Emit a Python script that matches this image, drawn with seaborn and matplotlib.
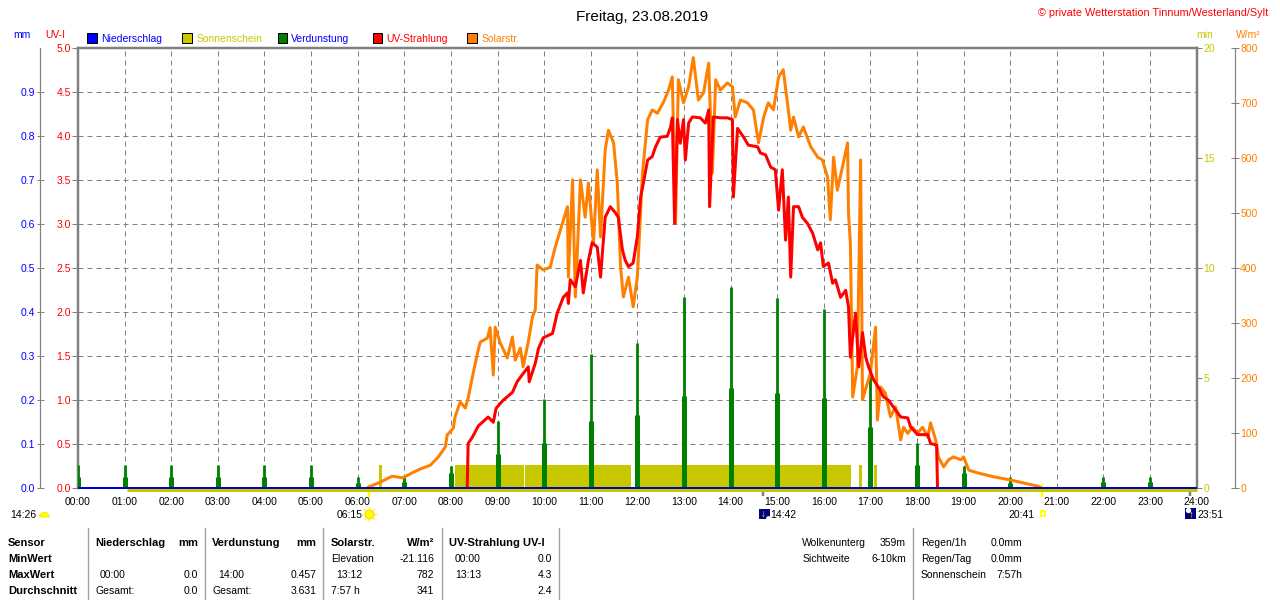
import matplotlib
matplotlib.use("Agg")
import matplotlib.pyplot as plt
import seaborn as sns
from matplotlib.patches import Rectangle, Wedge
from matplotlib.transforms import ScaledTranslation

# ---------------- data ----------------
hours = list(range(25))
hour_labels = [f"{h:02d}:00" for h in hours]
uv_ticks = [0.0, 0.5, 1.0, 1.5, 2.0, 2.5, 3.0, 3.5, 4.0, 4.5, 5.0]
mm_ticks = [0.0, 0.1, 0.2, 0.3, 0.4, 0.5, 0.6, 0.7, 0.8, 0.9]
min_ticks = [0, 5, 10, 15, 20]
wm2_ticks = [0, 100, 200, 300, 400, 500, 600, 700, 800]

solar_t = [6.23, 6.48, 6.74, 6.96, 7.17, 7.34, 7.56, 7.73, 7.88, 7.92,
           8.05, 8.09, 8.20, 8.31, 8.37, 8.46, 8.57, 8.63, 8.78, 8.84,
           8.91, 8.95, 9.06, 9.21, 9.32, 9.38, 9.49, 9.55, 9.66, 9.75,
           9.81, 9.85, 9.98, 10.13, 10.24, 10.35, 10.50, 10.52, 10.61, 10.67,
           10.78, 10.88, 10.95, 11.06, 11.14, 11.21, 11.31, 11.38, 11.49, 11.57,
           11.64, 11.70, 11.81, 11.91, 12.00, 12.11, 12.22, 12.32, 12.43, 12.56,
           12.67, 12.75, 12.82, 12.88, 12.99, 13.10, 13.20, 13.31, 13.42, 13.53,
           13.61, 13.68, 13.78, 13.93, 14.04, 14.10, 14.21, 14.36, 14.49, 14.60,
           14.71, 14.81, 14.92, 15.03, 15.13, 15.22, 15.29, 15.35, 15.46, 15.56,
           15.72, 15.87, 15.97, 16.08, 16.14, 16.21, 16.29, 16.40, 16.51, 16.53,
           16.57, 16.62, 16.72, 16.79, 16.83, 17.00, 17.11, 17.15, 17.22, 17.32,
           17.43, 17.54, 17.65, 17.71, 17.80, 17.90, 18.01, 18.12, 18.23, 18.29,
           18.40, 18.46, 18.57, 18.68, 18.78, 18.94, 19.00, 19.11, 19.30, 19.64,
           20.01, 20.37, 20.59, 20.68]
solar_w = [2, 11, 22, 19, 28, 35, 42, 57, 75, 97,
           109, 130, 157, 146, 164, 202, 246, 266, 273, 292,
           206, 293, 264, 237, 275, 233, 255, 221, 266, 312,
           324, 406, 397, 402, 439, 470, 512, 384, 561, 348,
           561, 493, 555, 446, 579, 457, 615, 651, 628, 555,
           402, 348, 384, 330, 384, 573, 670, 688, 682, 702,
           724, 748, 482, 743, 701, 730, 783, 706, 719, 773,
           573, 743, 724, 737, 730, 675, 706, 701, 688, 628,
           675, 701, 688, 748, 761, 701, 651, 675, 639, 657,
           621, 602, 597, 566, 488, 602, 542, 584, 628, 500,
           446, 166, 221, 597, 161, 210, 293, 124, 184, 173,
           130, 148, 88, 111, 100, 111, 100, 111, 93, 119,
           88, 57, 39, 52, 57, 52, 57, 33, 28, 21,
           15, 8, 4, 0]

uv_t = [8.35, 8.37, 8.46, 8.59, 8.80, 8.91, 8.97, 9.12, 9.32, 9.42,
        9.53, 9.66, 9.68, 9.81, 9.88, 9.98, 10.18, 10.28, 10.41, 10.50,
        10.52, 10.56, 10.67, 10.78, 10.84, 10.95, 11.03, 11.14, 11.21, 11.31,
        11.42, 11.53, 11.59, 11.68, 11.74, 11.81, 11.91, 12.00, 12.07, 12.13,
        12.22, 12.32, 12.39, 12.49, 12.64, 12.71, 12.75, 12.80, 12.86, 12.92,
        12.99, 13.03, 13.10, 13.18, 13.35, 13.46, 13.53, 13.55, 13.63, 13.78,
        13.93, 14.04, 14.06, 14.15, 14.28, 14.38, 14.58, 14.64, 14.75, 14.86,
        14.96, 15.03, 15.11, 15.18, 15.24, 15.29, 15.35, 15.46, 15.54, 15.65,
        15.76, 15.87, 15.93, 15.99, 16.10, 16.19, 16.25, 16.36, 16.47, 16.53,
        16.57, 16.68, 16.75, 16.83, 16.90, 16.96, 17.07, 17.17, 17.28, 17.39,
        17.50, 17.65, 17.80, 17.86, 18.01, 18.23, 18.29, 18.42, 18.44]
uv_i = [0.0, 0.51, 0.58, 0.71, 0.81, 0.75, 0.91, 1.00, 1.09, 1.21,
        1.29, 1.38, 1.21, 1.42, 1.59, 1.71, 1.76, 1.99, 2.17, 2.22,
        2.10, 2.37, 2.29, 2.59, 2.22, 2.59, 2.79, 2.74, 2.40, 3.08,
        3.20, 3.13, 3.08, 2.71, 2.59, 2.52, 2.56, 2.86, 3.31, 3.47,
        3.73, 3.77, 3.88, 3.99, 4.00, 4.10, 4.21, 3.01, 4.19, 3.92,
        4.19, 3.73, 4.15, 4.22, 4.21, 4.15, 4.30, 3.20, 4.22, 4.21,
        4.21, 4.19, 3.31, 4.09, 3.99, 3.90, 3.88, 3.81, 3.79, 3.65,
        3.62, 3.16, 3.62, 2.82, 3.31, 2.40, 3.20, 3.20, 3.08, 3.01,
        2.90, 2.71, 2.79, 2.52, 2.56, 2.33, 2.37, 2.17, 2.25, 2.06,
        1.49, 1.99, 1.38, 1.77, 1.49, 1.38, 1.23, 1.15, 1.04, 1.00,
        0.92, 0.81, 0.80, 0.70, 0.61, 0.61, 0.51, 0.49, 0.0]

evap_h = list(range(24))
evap_hi = [0.053, 0.053, 0.053, 0.053, 0.053, 0.053, 0.026, 0.026, 0.051, 0.153,
           0.203, 0.305, 0.330, 0.435, 0.457, 0.432, 0.408, 0.283, 0.103, 0.051,
           0.026, 0.0, 0.026, 0.026]
evap_lo = [0.026, 0.026, 0.026, 0.026, 0.026, 0.026, 0.012, 0.015, 0.035, 0.078,
           0.103, 0.153, 0.167, 0.210, 0.228, 0.217, 0.205, 0.140, 0.053, 0.035,
           0.012, 0.0, 0.014, 0.014]

sun_start = [6.45, 8.08, 9.60, 11.95, 16.75, 17.07]
sun_end = [6.52, 9.56, 11.865, 16.59, 16.82, 17.15]
sun_min = [1.05, 1.05, 1.05, 1.05, 1.05, 1.05]
sunbase_t = [1.05, 24.0]
sunbase_min = [0.0, 0.0]

rain_t = [0.0, 24.0]
rain_mm = [0.0, 0.0]

sun_events = [6.25, 20.683]     # sunrise / sunset
moon_events = [14.7, 23.85]     # moonset / moonrise

# ---------------- style ----------------
BLUE = '#0000FF'
OLIVE = '#C8C800'
GREEN = '#008000'
RED = '#FF0000'
ORANGE = '#FF8000'
GRAY = '#808080'
PT = 0.72  # points per pixel at 100 dpi

plt.rcParams['font.family'] = ['Liberation Sans', 'DejaVu Sans']

fig = plt.figure(figsize=(12.8, 6.0), dpi=100, facecolor='white')
L, R, T, B = 78, 1196.7, 48.3, 488.3
ax = fig.add_axes([L / 1280, 1 - B / 600, (R - L) / 1280, (B - T) / 600])
ax.set_xlim(0, 24)
ax.set_ylim(0, 5)
ax.set_xticks(hours)
ax.set_xticklabels(hour_labels)
ax.set_yticks(uv_ticks)
ax.set_yticklabels([f"{v:.1f}" for v in uv_ticks])
ax.grid(True, color=GRAY, lw=1 * PT, ls=(0, (5, 4)))
ax.tick_params(axis='x', length=0, pad=6, labelsize=7.5, labelcolor='black')
ax.tick_params(axis='y', direction='out', length=6 * PT, width=1 * PT,
               color=GRAY, pad=1 * PT, labelsize=7.5, labelcolor=RED)
for s in ['top', 'left', 'right']:
    ax.spines[s].set_color(GRAY)
    ax.spines[s].set_linewidth(2.5 * PT)
ax.spines['bottom'].set_visible(False)

# sunshine minutes (right inner axis)
ax_min = ax.twinx()
ax_min.set_ylim(0, 20)
ax_min.set_yticks(min_ticks)
ax_min.set_yticklabels([str(v) for v in min_ticks])
ax_min.tick_params(axis='y', direction='out', length=5 * PT, width=1 * PT,
                   color=GRAY, pad=2 * PT, labelsize=7.5, labelcolor=OLIVE)
for s in ax_min.spines.values():
    s.set_visible(False)
widths = [e - s for s, e in zip(sun_start, sun_end)]
ax_min.bar(sun_start, sun_min, width=widths, align='edge', color=OLIVE, linewidth=0)
off = ScaledTranslation(0, -1.6 / 100, fig.dpi_scale_trans)
ax_min.plot(sunbase_t, sunbase_min, color=OLIVE, lw=3 * PT,
            transform=ax_min.transData + off, clip_on=False, solid_capstyle='butt')

# evaporation mm (left outer axis)
ax_mm = ax.twinx()
ax_mm.set_ylim(0, 1)
ax_mm.yaxis.tick_left()
ax_mm.set_yticks(mm_ticks)
ax_mm.set_yticklabels([f"{v:.1f}" for v in mm_ticks])
for k, s in ax_mm.spines.items():
    s.set_visible(False)
ax_mm.spines['left'].set_visible(True)
ax_mm.spines['left'].set_position(('outward', 38 * PT))
ax_mm.spines['left'].set_color(GRAY)
ax_mm.spines['left'].set_linewidth(1.2 * PT)
ax_mm.tick_params(axis='y', direction='inout', length=7 * PT, width=1 * PT,
                  color=GRAY, pad=1.5 * PT, labelsize=7.5, labelcolor=BLUE)
ax_mm.vlines(evap_h, 0, evap_lo, color=GREEN, lw=5 * PT)
ax_mm.vlines(evap_h, 0, evap_hi, color=GREEN, lw=2.8 * PT)

# solar radiation W/m2 (right outer axis)
ax_w = ax.twinx()
sns.lineplot(x=solar_t, y=solar_w, ax=ax_w, color=ORANGE, linewidth=3 * PT,
             estimator=None, sort=False)
ax_w.set_ylim(0, 800)
ax_w.set_yticks(wm2_ticks)
ax_w.set_yticklabels([str(v) for v in wm2_ticks])
for s in ax_w.spines.values():
    s.set_visible(False)
ax_w.spines['right'].set_visible(True)
ax_w.spines['right'].set_position(('outward', 38 * PT))
ax_w.spines['right'].set_color(GRAY)
ax_w.spines['right'].set_linewidth(1.2 * PT)
ax_w.tick_params(axis='y', direction='inout', length=8 * PT, width=1 * PT,
                 color=GRAY, pad=1.5 * PT, labelsize=7.5, labelcolor=ORANGE)
ax_w.set_xlabel('')
ax_w.set_ylabel('')

# UV index (drawn on top)
ax_uv = ax.twinx()
sns.lineplot(x=uv_t, y=uv_i, ax=ax_uv, color=RED, linewidth=3 * PT,
             estimator=None, sort=False)
ax_uv.set_ylim(0, 5)
ax_uv.set_axis_off()

# precipitation baseline
ax_rain = ax.twinx()
ax_rain.plot(rain_t, rain_mm, color='#0000C8', lw=2 * PT, clip_on=False,
             solid_capstyle='butt')
ax_rain.set_ylim(0, 1)
ax_rain.set_axis_off()
ax.set_xlim(0, 24)

# event ticks below axis
ax.vlines(sun_events, -0.020, 0.010, transform=ax.get_xaxis_transform(),
          color='#FFFF00', lw=2.5 * PT, clip_on=False, zorder=5)
ax.vlines(moon_events, -0.018, 0.0, transform=ax.get_xaxis_transform(),
          color=GRAY, lw=2.5 * PT, clip_on=False, zorder=5)

# ---------------- overlay (text, legend, table) ----------------
ov = fig.add_axes([0, 0, 1, 1], zorder=10)
ov.set_xlim(0, 1280)
ov.set_ylim(600, 0)
ov.set_axis_off()
ov.patch.set_visible(False)

def tx(x, y, s, ha='left', color='black', size=7.5, weight='normal'):
    ov.text(x, y, s, ha=ha, va='baseline', color=color, fontsize=size,
            fontweight=weight)

tx(642, 21, 'Freitag, 23.08.2019', ha='center', size=11)
tx(1268, 16, '© private Wetterstation Tinnum/Westerland/Sylt', ha='right',
   color=RED, size=7.8)

# axis unit labels
tx(22, 37.5, 'mm', ha='center', color=BLUE)
tx(55, 37.5, 'UV-I', ha='center', color=RED)
tx(1205, 37.5, 'min', ha='center', color=OLIVE)
tx(1248, 37.5, 'W/m²', ha='center', color=ORANGE)

# legend
legend_items = [('Niederschlag', BLUE, BLUE, 87.3, 101.5),
                ('Sonnenschein', OLIVE, OLIVE, 182.4, 196.7),
                ('Verdunstung', GREEN, BLUE, 277.5, 291.4),
                ('UV-Strahlung', RED, RED, 372.7, 386.5),
                ('Solarstr.', ORANGE, ORANGE, 467.3, 481.6)]
for name, fc, tc, sx, tx0 in legend_items:
    ov.add_patch(Rectangle((sx, 33.3), 9.4, 9.4, facecolor=fc, edgecolor='black',
                           lw=1 * PT))
    tx(tx0, 42, name, color=tc)

# markers under time axis
tx(10, 517.7, '14:26')
ov.add_patch(Wedge((44.5, 517), 4.8, 180, 360, facecolor='#FFFF00', edgecolor='#F0E000', lw=0.5))
tx(362.3, 517.7, '06:15', ha='right')
ov.scatter([368.5], [514], marker=(8, 2, 0), s=110, color='#FFF080', linewidths=1.0, zorder=3)
ov.scatter([368.5], [514], marker='o', s=38, color='#FFFF00', edgecolors='#FFE000', zorder=4)
ov.add_patch(Rectangle((759, 508.7), 10.5, 10.5, facecolor='#000080', edgecolor='none'))
ov.text(763, 514, '↓', ha='center', va='center', color='#FFFF00', fontsize=7, fontweight='bold')
ov.scatter([767.5], [517.5], s=6, color='white', zorder=5)
tx(770.7, 517.7, '14:42')
tx(1035, 517.7, '20:41', ha='right')
ov.add_patch(Rectangle((1040.7, 511), 4.6, 5, facecolor='none', edgecolor='#FFFF00', lw=1.3))
ov.add_patch(Rectangle((1185, 507.7), 11, 11.3, facecolor='#000080', edgecolor='none'))
ov.text(1191.5, 514.5, '↑', ha='center', va='center', color='#FFFF00', fontsize=7, fontweight='bold')
ov.scatter([1187.5], [510], s=8, color='white', zorder=5)
tx(1197, 517.7, '23:51')

# table separators
for xs in [88.3, 205, 323.3, 441.7, 559.3, 913.3]:
    ov.plot([xs, xs], [527.7, 600], color='#A0A0A0', lw=1.4 * PT)

rows = [546, 562, 578, 594]
for lab, y in zip(['Sensor', 'MinWert', 'MaxWert', 'Durchschnitt'], rows):
    tx(8, y, lab, weight='bold', size=8)
tx(95, rows[0], 'Niederschlag', weight='bold', size=8)
tx(198.3, rows[0], 'mm', ha='right', weight='bold', size=8)
tx(212.3, rows[0], 'Verdunstung', weight='bold', size=8)
tx(316.7, rows[0], 'mm', ha='right', weight='bold', size=8)
tx(330.7, rows[0], 'Solarstr.', weight='bold', size=8)
tx(434, rows[0], 'W/m²', ha='right', weight='bold', size=8)
tx(449, rows[0], 'UV-Strahlung UV-I', weight='bold', size=8)

tx(330.7, rows[1], 'Elevation')
tx(434, rows[1], '-21.116', ha='right')
tx(455, rows[1], '00:00')
tx(552, rows[1], '0.0', ha='right')

tx(100, rows[2], '00:00')
tx(198.3, rows[2], '0.0', ha='right')
tx(218, rows[2], '14:00')
tx(316.7, rows[2], '0.457', ha='right')
tx(336.7, rows[2], '13:12')
tx(434, rows[2], '782', ha='right')
tx(455, rows[2], '13:13')
tx(552, rows[2], '4.3', ha='right')

tx(95, rows[3], 'Gesamt:')
tx(198.3, rows[3], '0.0', ha='right')
tx(212.3, rows[3], 'Gesamt:')
tx(316.7, rows[3], '3.631', ha='right')
tx(330.7, rows[3], '7:57 h')
tx(434, rows[3], '341', ha='right')
tx(552, rows[3], '2.4', ha='right')

tx(802.3, rows[0], 'Wolkenunterg')
tx(906, rows[0], '359m', ha='right')
tx(802.3, rows[1], 'Sichtweite')
tx(906, rows[1], '6-10km', ha='right')
tx(920.7, rows[0], 'Regen/1h')
tx(1022.7, rows[0], '0.0mm', ha='right')
tx(920.7, rows[1], 'Regen/Tag')
tx(1022.7, rows[1], '0.0mm', ha='right')
tx(920.7, rows[2], 'Sonnenschein')
tx(1022.7, rows[2], '7:57h', ha='right')

fig.savefig('out.png', dpi=100, facecolor='white')
